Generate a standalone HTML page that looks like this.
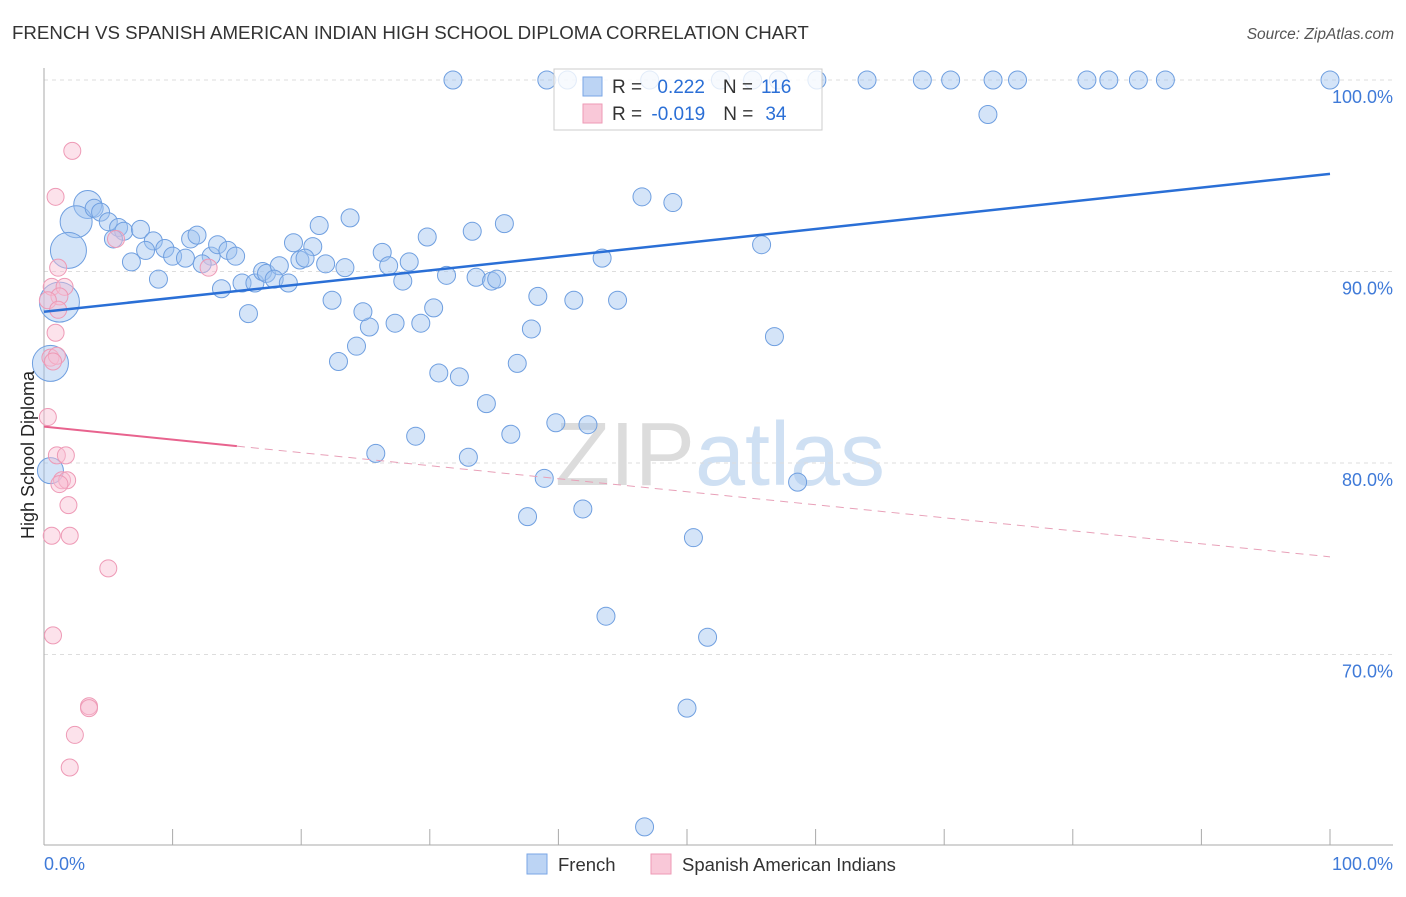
<!DOCTYPE html>
<html><head><meta charset="utf-8"><style>
body{margin:0;background:#fff;font-family:"Liberation Sans",sans-serif;}
svg text{font-family:"Liberation Sans",sans-serif;}
</style></head><body>
<svg id="chart" width="1406" height="892" viewBox="0 0 1406 892">
<text x="12" y="39" font-size="18.7" fill="#333">FRENCH VS SPANISH AMERICAN INDIAN HIGH SCHOOL DIPLOMA CORRELATION CHART</text>
<text x="1394" y="39" font-size="15.5" fill="#555" text-anchor="end" font-style="italic">Source: ZipAtlas.com</text>
<text x="720" y="485" font-size="90" fill="#e3e6ea" text-anchor="middle" font-family="Liberation Serif"><tspan fill="#dcdcdc">ZIP</tspan><tspan fill="#cfe0f3" font-family="Liberation Sans">atlas</tspan></text>
<g id="grid"></g>
<g id="marks"></g>
<text transform="translate(34,455) rotate(-90)" font-size="18" fill="#222" text-anchor="middle">High School Diploma</text>
<g>
<rect x="554" y="69" width="268" height="61" fill="rgba(255,255,255,0.8)" stroke="#ccc"/>
<rect x="583" y="77" width="19" height="19" fill="#bcd4f4" stroke="#7aa6e6"/>
<rect x="583" y="104" width="19" height="19" fill="#f9c8d8" stroke="#ee9ab6"/>
<text x="612" y="93" font-size="19" fill="#333">R = <tspan fill="#2b6fd6" dx="10">0.222</tspan><tspan dx="18" fill="#333">N =</tspan><tspan dx="8" fill="#2b6fd6">116</tspan></text>
<text x="612" y="120" font-size="19" fill="#333">R = <tspan fill="#2b6fd6" dx="4">-0.019</tspan><tspan dx="18" fill="#333">N =</tspan><tspan dx="12" fill="#2b6fd6">34</tspan></text>
</g>
<g>
<rect x="527" y="854" width="20" height="20" fill="#bcd4f4" stroke="#7aa6e6"/>
<text x="558" y="871" font-size="18.5" fill="#333">French</text>
<rect x="651" y="854" width="20" height="20" fill="#f9c8d8" stroke="#ee9ab6"/>
<text x="682" y="871" font-size="18.5" fill="#333">Spanish American Indians</text>
</g>
</svg>
<script>
const frenchX=[31.8,39.1,40.7,47.1,52.6,55.1,57.1,60.1,64.0,68.3,70.5,73.8,75.7,81.1,82.8,85.1,87.2,100,73.4,
46.5,48.9,55.8,43.4,56.8,38.4,41.2,44.6,37.9,36.8,35.8,33.3,29.8,23.8,21.4,26.3,26.8,28.4,27.9,31.3,33.6,34.8,35.2,30.3,29.3,27.3,25.3,24.8,22.4,24.3,22.9,30.7,32.3,34.4,28.9,36.3,25.8,33.0,39.8,42.3,38.9,58.6,37.6,41.9,50.5,43.7,51.6,50.0,46.7,
3.4,2.5,1.9,1.2,0.5,0.5,
3.9,4.4,5.0,5.8,6.2,5.4,7.5,8.5,6.8,7.9,9.4,10.0,8.9,11.0,11.4,11.9,13.0,13.5,14.3,14.9,12.3,13.8,15.9,15.4,16.4,17.0,17.3,18.3,17.9,19.0,19.4,19.9,20.9,20.3,21.9,23.4];
const frenchY=[100,100,100,100,100,100,100,100,100,100,100,100,100,100,100,100,100,100,98.2,
93.9,93.6,91.4,90.7,86.6,88.7,88.5,88.5,87.0,85.2,92.5,92.1,91.8,92.8,92.4,91.0,90.3,90.5,89.5,89.8,89.7,89.5,89.6,88.1,87.3,87.3,87.1,87.9,88.5,86.1,85.3,84.7,84.5,83.1,81.4,81.5,80.5,80.3,82.1,82.0,79.2,79.0,77.2,77.6,76.1,72.0,70.9,67.2,61.0,
93.5,92.6,91.1,88.4,85.2,79.6,
93.3,93.1,92.6,92.3,92.1,91.7,92.2,91.6,90.5,91.1,91.2,90.8,89.6,90.7,91.7,91.9,90.8,91.4,91.1,90.8,90.4,89.1,87.8,89.4,89.4,90.0,89.9,90.3,89.6,89.4,91.5,90.6,91.3,90.7,90.4,90.2];
const bigIdx={68:14,69:16,70:18,71:20,72:18,73:13};
const spanishX=[2.2,0.9,1.1,0.6,1.6,1.2,0.3,1.1,0.9,0.5,1.0,0.7,0.3,1.0,1.7,1.4,1.8,1.2,1.9,0.6,2.0,5.0,0.7,3.5,3.5,2.4,2.0,5.6,12.8];
const spanishY=[96.3,93.9,90.2,89.2,89.2,88.7,88.5,88.0,86.8,85.5,85.6,85.3,82.4,80.4,80.4,79.1,79.1,78.9,77.8,76.2,76.2,74.5,71.0,67.3,67.2,65.8,64.1,91.7,90.2];
const yTicks=[100,90,80,70];
const trendFrench=[87.9,95.1];
const trendSpanish=[81.9,75.1];

const NS="http://www.w3.org/2000/svg";
const X0=44,X1=1330,Y100=80,PX=19.15;
const sx=v=>X0+(X1-X0)*v/100;
const sy=v=>Y100+(100-v)*PX;
function mk(tag,attrs,parent){const e=document.createElementNS(NS,tag);for(const k in attrs)e.setAttribute(k,attrs[k]);parent.appendChild(e);return e;}
const grid=document.getElementById('grid'),marks=document.getElementById('marks');
yTicks.forEach(t=>{
  const l=mk('line',{x1:44,x2:1393,y1:sy(t),y2:sy(t),stroke:'#ddd','stroke-dasharray':'4 4'},grid);
  
  
  const tx=mk('text',{x:1393,y:sy(t)+23,'font-size':18,fill:'#3f7ad8','text-anchor':'end'},grid);
  tx.textContent=t.toFixed(1)+'%';
  
  
});
const ax=mk('line',{x1:44,x2:44,y1:68,y2:845,stroke:'#aaa'},grid);


const bx=mk('line',{x1:44,x2:1393,y1:845,y2:845,stroke:'#aaa'},grid);


for(let i=0;i<=10;i++){const t=mk('line',{x1:sx(i*10),x2:sx(i*10),y1:829,y2:845,stroke:'#aaa'},grid);
  
  }
[['0.0%',44,'start'],['100.0%',1393,'end']].forEach(a=>{const t=mk('text',{x:a[1],y:870,'font-size':18,fill:'#3f7ad8','text-anchor':a[2]},grid);t.textContent=a[0];
  
  });
frenchX.forEach((v,i)=>{
  const c=mk('circle',{cx:sx(v),cy:sy(frenchY[i]),r:bigIdx[i]||9,fill:'rgba(160,196,240,0.45)',stroke:'#6f9fe0','stroke-width':1},marks);
  
  
});
spanishX.forEach((v,i)=>{
  const c=mk('circle',{cx:sx(v),cy:sy(spanishY[i]),r:8.5,fill:'rgba(248,190,210,0.45)',stroke:'#ee9ab6','stroke-width':1},marks);
  
  
});
const tf=mk('line',{x1:sx(0),y1:sy(trendFrench[0]),x2:sx(100),y2:sy(trendFrench[1]),stroke:'#2a6fd6','stroke-width':2.5},marks);


const ysAt=x=>trendSpanish[0]+(trendSpanish[1]-trendSpanish[0])*x/100;
const ts=mk('line',{x1:sx(0),y1:sy(ysAt(0)),x2:sx(15),y2:sy(ysAt(15)),stroke:'#e8638e','stroke-width':2},marks);


const td=mk('line',{x1:sx(15),y1:sy(ysAt(15)),x2:sx(100),y2:sy(ysAt(100)),stroke:'#e8a0b8','stroke-width':1,'stroke-dasharray':'8 6'},marks);


</script>
</body></html>
